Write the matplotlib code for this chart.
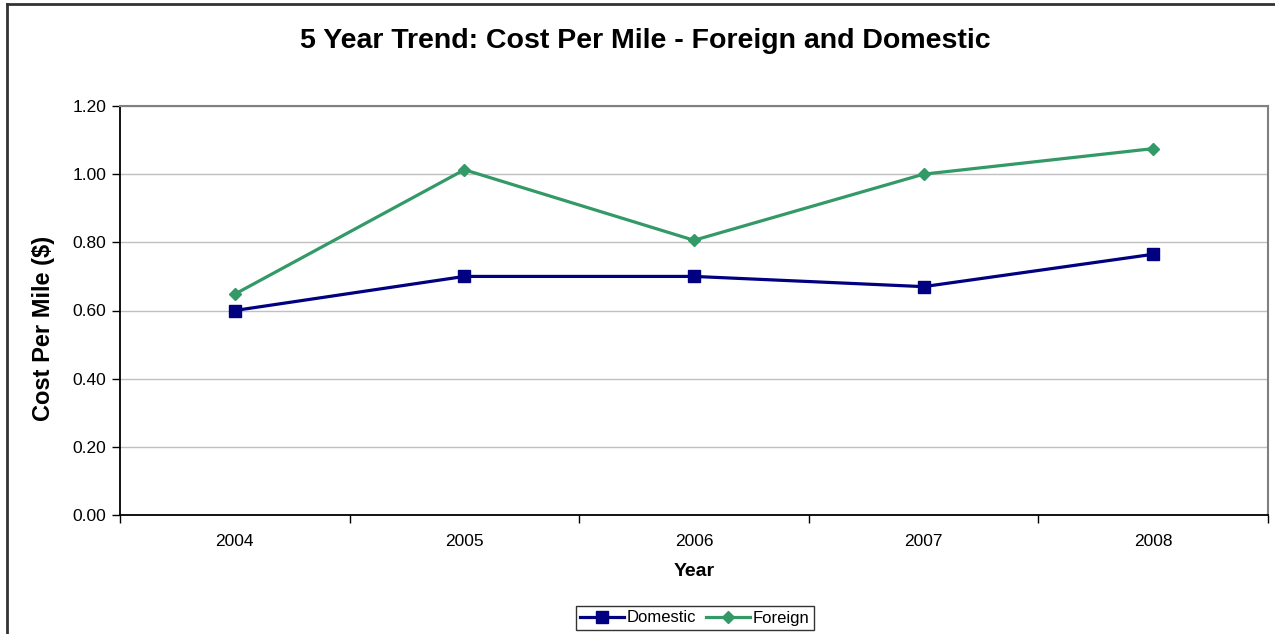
import matplotlib
matplotlib.use("Agg")
import matplotlib.pyplot as plt
from matplotlib.lines import Line2D
from matplotlib.ticker import FixedLocator, FuncFormatter
import numpy as np

plt.rcParams['font.family'] = ['Liberation Sans', 'DejaVu Sans']

years = ["2004", "2005", "2006", "2007", "2008"]
domestic = [0.60, 0.70, 0.70, 0.67, 0.765]
foreign = [0.648, 1.013, 0.806, 1.000, 1.075]

fig = plt.figure(figsize=(12.75, 6.34), dpi=100)
ax = fig.add_axes([120/1275, 1 - 515/634, (1268-120)/1275, (515-106)/634])

x = np.arange(len(years)) + 0.5
ax.plot(x, domestic, color='#000080', lw=2.3, marker='s', markersize=8,
        label='Domestic')
ax.plot(x, foreign, color='#339966', lw=2.3, marker='D', markersize=6.5,
        label='Foreign')

ax.set_xlim(0, len(years))
ax.set_ylim(0, 1.2)
ax.set_yticks(np.arange(0, 1.21, 0.2))
ax.yaxis.set_major_formatter(FuncFormatter(lambda v, p: f"{v:.2f}"))
ax.grid(axis='y', color='#c0c0c0', lw=1)
ax.set_axisbelow(True)

ax.xaxis.set_major_locator(FixedLocator(np.arange(len(years) + 1)))
ax.xaxis.set_major_formatter(FuncFormatter(lambda v, p: ""))
ax.xaxis.set_minor_locator(FixedLocator(x))
ax.set_xticklabels(years, minor=True)
ax.tick_params(axis='x', which='major', length=6, width=1, direction='out')
ax.tick_params(axis='x', which='minor', length=0, pad=14, labelsize=12.5)
ax.tick_params(axis='y', length=6, width=1, direction='out', pad=4, labelsize=12.5)

for s in ['left', 'bottom']:
    ax.spines[s].set_color('black')
    ax.spines[s].set_linewidth(1.3)
for s in ['top', 'right']:
    ax.spines[s].set_color('#808080')
    ax.spines[s].set_linewidth(1.5)

ax.set_xlabel("Year", fontsize=14, fontweight='bold')
ax.xaxis.set_label_coords(0.5, -(563 - 515) / 409)
ax.set_ylabel("Cost Per Mile ($)", fontsize=17, fontweight='bold')
ax.yaxis.set_label_coords((55 - 120) / 1148, (515 - 328) / 409)

fig.text(645/1275, 1 - 41/634, "5 Year Trend: Cost Per Mile - Foreign and Domestic",
         ha='center', va='center', fontsize=20.5, fontweight='bold')

leg = fig.legend(loc='center', bbox_to_anchor=(695/1275, 1 - 618/634), ncol=2,
                 fontsize=12, frameon=True, fancybox=False, edgecolor='black',
                 handlelength=2.6, columnspacing=0.6, handletextpad=0.2,
                 borderpad=0.25, borderaxespad=0)
leg.get_frame().set_linewidth(1)

fig.add_artist(Line2D([7/1275, 7/1275], [0, 1 - 4/634], transform=fig.transFigure,
                      color='#333333', lw=2))
fig.add_artist(Line2D([7/1275, 1], [1 - 4/634, 1 - 4/634], transform=fig.transFigure,
                      color='#333333', lw=2))

fig.savefig("out.png", dpi=100)
